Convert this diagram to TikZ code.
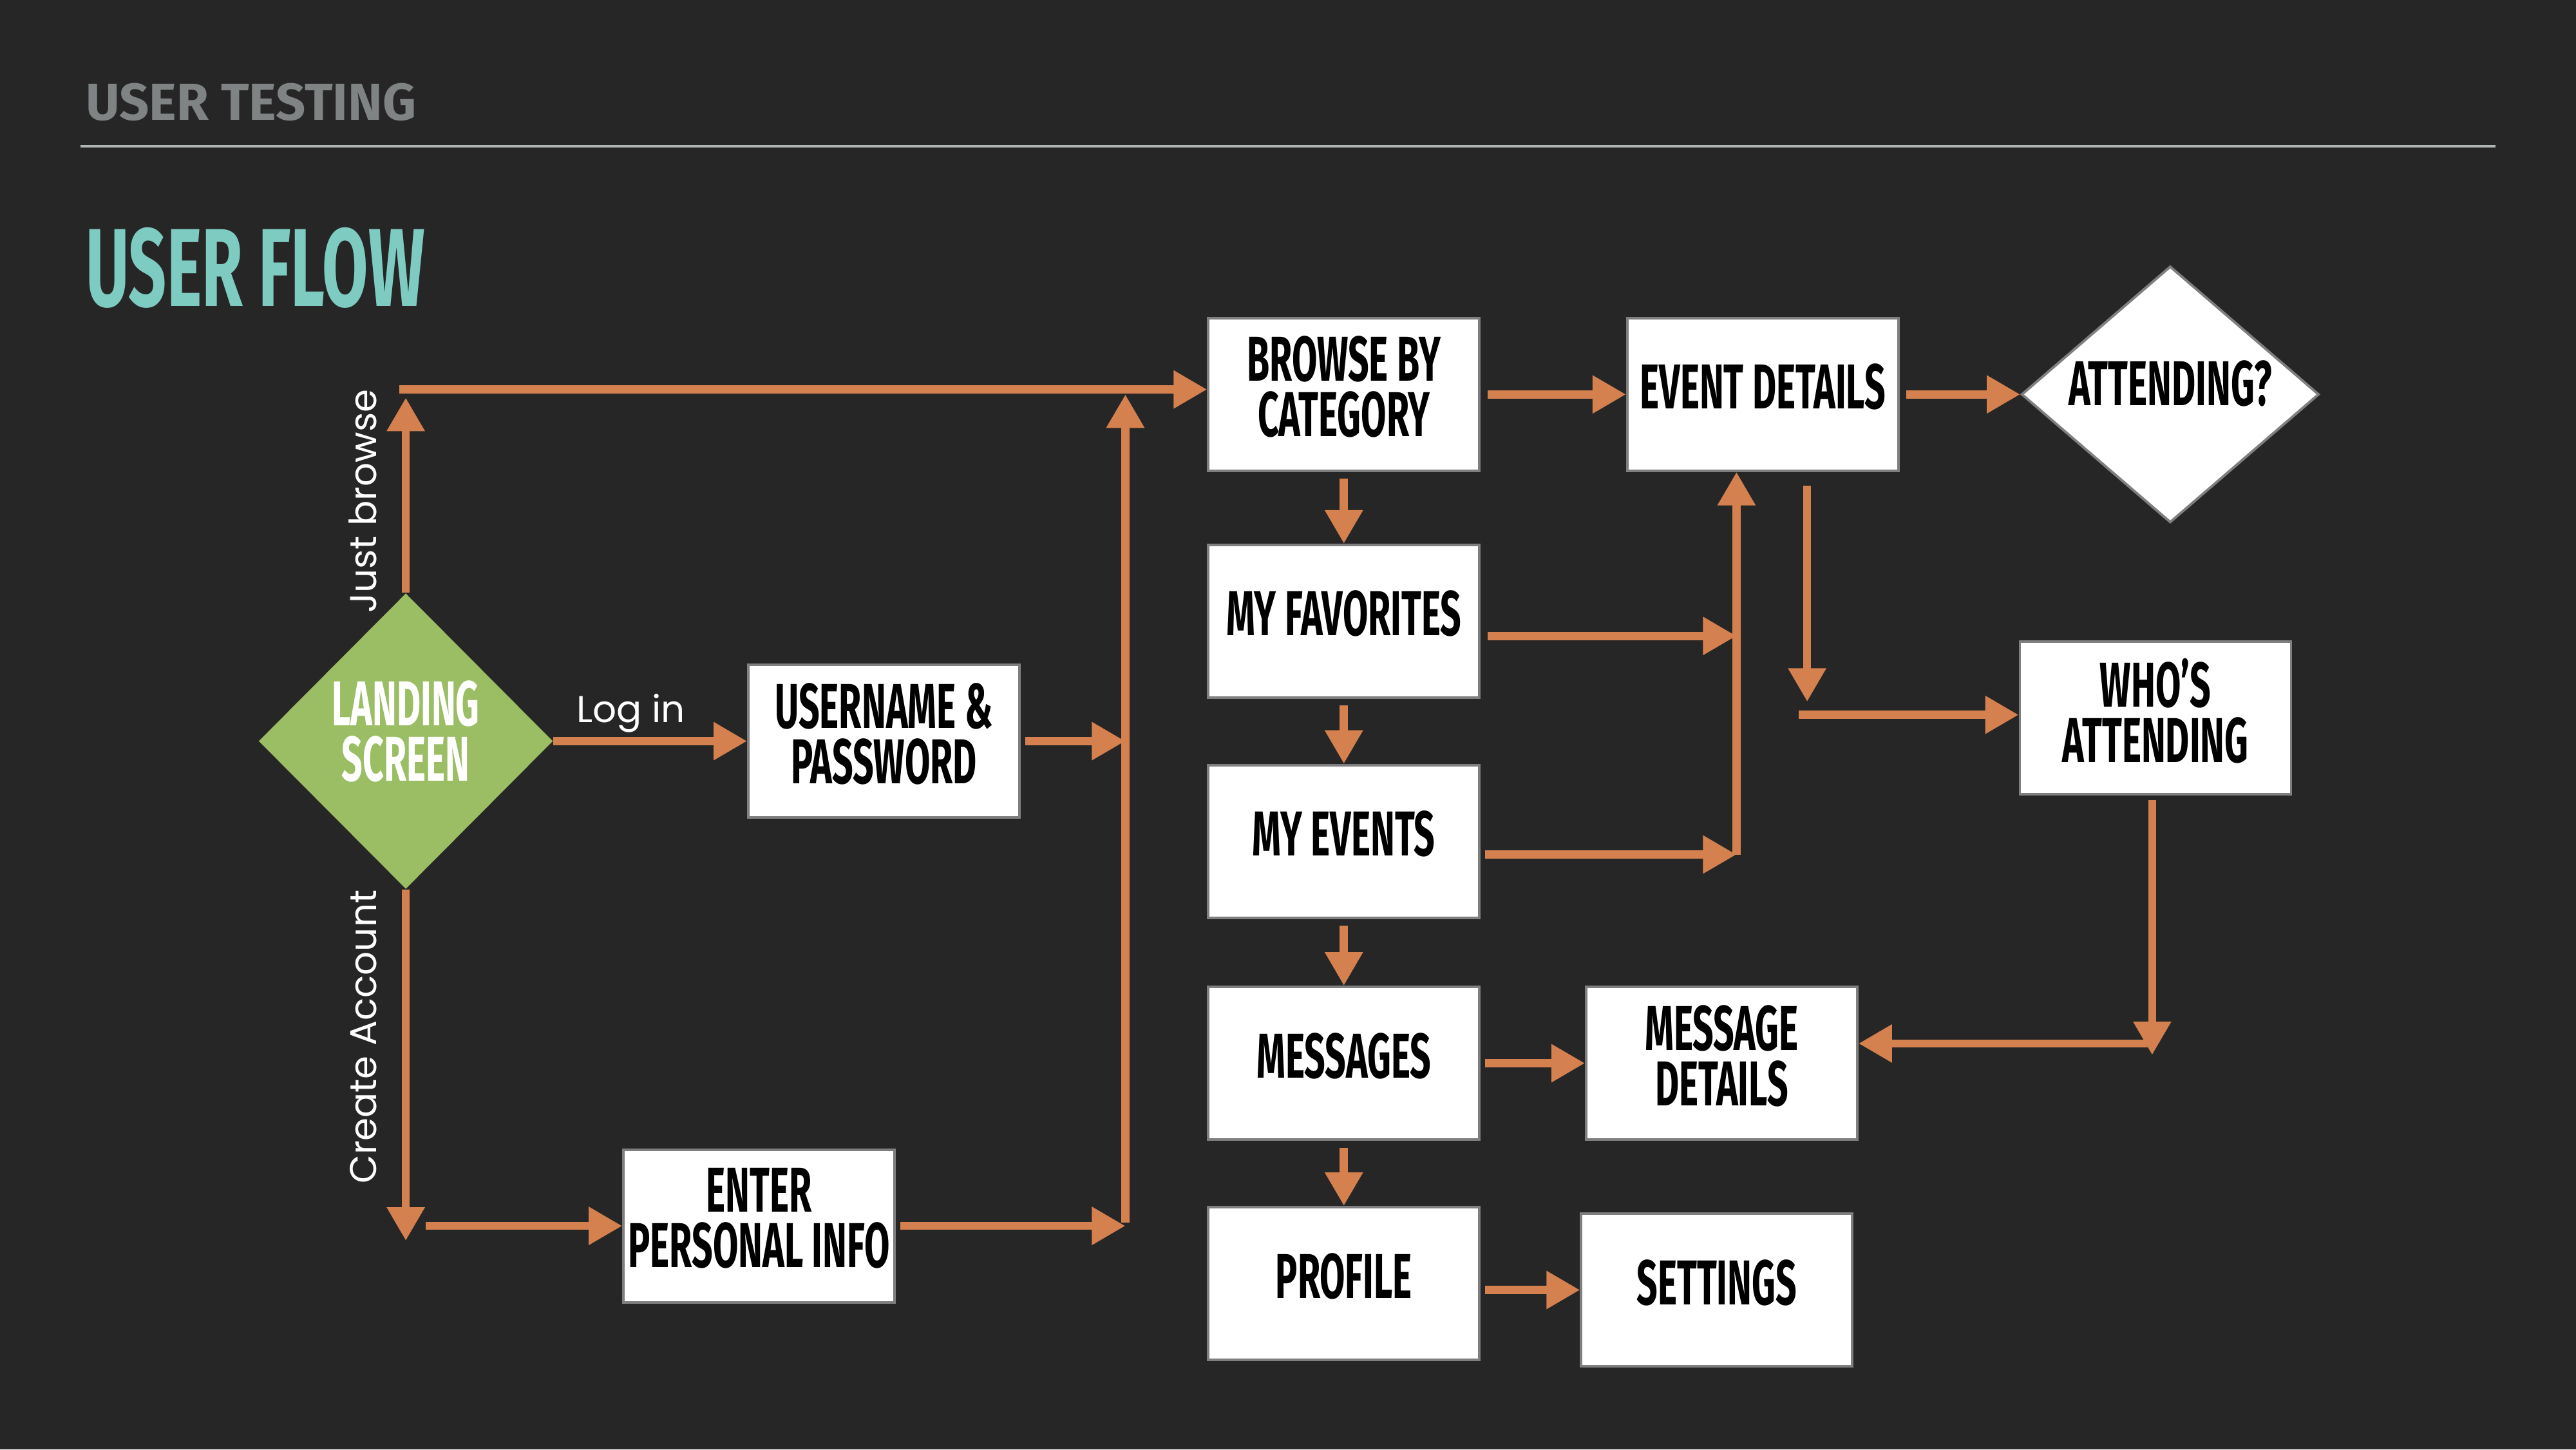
\documentclass[tikz,border=0pt]{standalone}
\usepackage{fontspec}
\usetikzlibrary{shapes.geometric,arrows.meta}

\newfontfamily\condfont{Fira Sans}[FakeStretch=0.58]
\newfontfamily\titlefont{Fira Sans}[FakeStretch=0.6]
\newfontfamily\headfont{Fira Sans}[FakeStretch=1.0]
\newfontfamily\labelfont{Poppins}

\definecolor{slidebg}{HTML}{262626}
\definecolor{floworange}{HTML}{D4804F}
\definecolor{landgreen}{HTML}{9BBD63}
\definecolor{titleteal}{HTML}{7ECBC2}
\definecolor{headgray}{HTML}{7F8384}
\definecolor{boxedge}{HTML}{7F7F7F}

\tikzset{
  screen/.style={rectangle, draw=boxedge, line width=1.1pt, fill=white,
    minimum width=4.21cm, minimum height=2.37cm, inner sep=0pt, align=center,
    text depth=7pt, font=\condfont\bfseries\fontsize{28}{24.5}\selectfont},
  choice/.style={diamond, inner sep=0pt, align=center,
    font=\condfont\bfseries\fontsize{28}{24.5}\selectfont},
  flow/.style={draw=floworange, line width=3.6pt,
    -{Triangle[length=0.52cm,width=0.56cm]}},
  pathlabel/.style={text=white, inner sep=4pt,
    font=\labelfont\fontsize{16.5}{19}\selectfont},
  sidelabel/.style={pathlabel, rotate=90, anchor=south, inner ysep=11pt}
}

\begin{document}
\begin{tikzpicture}[x=0.02551cm, y=-0.02551cm]
  \fill[slidebg] (0,0) rectangle (1568,882);
  \useasboundingbox (0,0) rectangle (1568,882);

  % header of the slide
  \node[anchor=west, inner sep=0pt, text=headgray,
    font=\headfont\bfseries\fontsize{23}{27}\selectfont] (section) at (52,62) {USER TESTING};
  \draw[headgray!60!white, line width=0.9pt] (49,89) -- (1519,89);
  \node[anchor=west, inner sep=0pt, text=titleteal,
    font=\titlefont\bfseries\fontsize{49}{55}\selectfont] (title) at (52,163) {USER FLOW};

  % screens
  \node[choice, fill=landgreen, text=white, text depth=9pt, minimum width=4.57cm, minimum height=4.59cm] (landing) at (247,451) {LANDING\\SCREEN};
  \node[screen] (login) at (538,451) {USERNAME \&\\PASSWORD};
  \node[screen] (signup) at (462,746) {ENTER\\PERSONAL INFO};
  \node[screen] (browse) at (818,240) {BROWSE BY\\CATEGORY};
  \node[screen] (favorites) at (818,378) {MY FAVORITES};
  \node[screen] (myevents) at (818,512) {MY EVENTS};
  \node[screen] (messages) at (818,647) {MESSAGES};
  \node[screen] (profile) at (818,781) {PROFILE};
  \node[screen] (details) at (1073,240) {EVENT DETAILS};
  \node[choice, fill=white, draw=boxedge, line width=1.1pt, text depth=10pt, shape aspect=1.16, minimum width=4.62cm, minimum height=3.98cm] (attending) at (1321,240) {ATTENDING?};
  \node[screen] (whos) at (1312,437) {WHO’S\\ATTENDING};
  \node[screen] (msgdetails) at (1048,647) {MESSAGE\\DETAILS};
  \node[screen] (settings) at (1045,785) {SETTINGS};

  % turning points
  \coordinate (browseTip) at (247,242);
  \coordinate (browseStart) at (243,237);
  \coordinate (createTip) at (247,755);
  \coordinate (createStart) at (259,746);
  \coordinate (joinTop) at (685,240);
  \coordinate (joinBottom) at (685,744);
  \coordinate (favJoin) at (1057,387);
  \coordinate (eventJoin) at (1057,520);
  \coordinate (whoDrop) at (1100,427);
  \coordinate (whoFeed) at (1095,435);
  \coordinate (whoTurn) at (1310,642);
  \coordinate (msgFeed) at (1310,635);

  % entry paths
  \draw[flow] (landing.north) -- node[sidelabel, pos=0.47] {Just browse} (browseTip);
  \draw[flow] (browseStart) -- (browseStart -| browse.west);
  \draw[flow] (landing.east) -- node[pathlabel, above, inner sep=2pt, pos=0.4] {Log in} (login.west);
  \draw[flow, shorten <=2pt] (login.east) -- (login.east -| joinTop);
  \draw[flow] (landing.south) -- node[sidelabel, pos=0.42] {Create Account} (createTip);
  \draw[flow] (createStart) -- (signup.west);
  \draw[flow, shorten <=2pt] (signup.east) -- (signup.east -| joinBottom);
  \draw[flow] (joinBottom) -- (joinTop);

  % main menu
  \foreach \from/\to in {browse/favorites, favorites/myevents, myevents/messages, messages/profile}
    \draw[flow, shorten <=3pt] (\from.south) -- (\to.north);
  \draw[flow, shorten <=3pt] (browse.east) -- (details.west);
  \draw[flow, shorten <=3pt] (details.east) -- (attending.west);
  \draw[flow, shorten <=3pt] (favorites.east |- favJoin) -- (favJoin);
  \draw[flow, shorten <=2pt] (myevents.east |- eventJoin) -- (eventJoin);
  \draw[flow] (eventJoin) -- (eventJoin |- details.south);
  \draw[flow, shorten <=6pt] (details.south -| whoDrop) -- (whoDrop);
  \draw[flow] (whoFeed) -- (whoFeed -| whos.west);
  \draw[flow, shorten <=2pt] (whos.south -| whoTurn) -- (whoTurn);
  \draw[flow] (msgFeed) -- (msgFeed -| msgdetails.east);
  \draw[flow, shorten <=2pt] (messages.east) -- (msgdetails.west);
  \draw[flow, shorten <=2pt] (settings.west -| profile.east) -- (settings.west);
\end{tikzpicture}
\end{document}
